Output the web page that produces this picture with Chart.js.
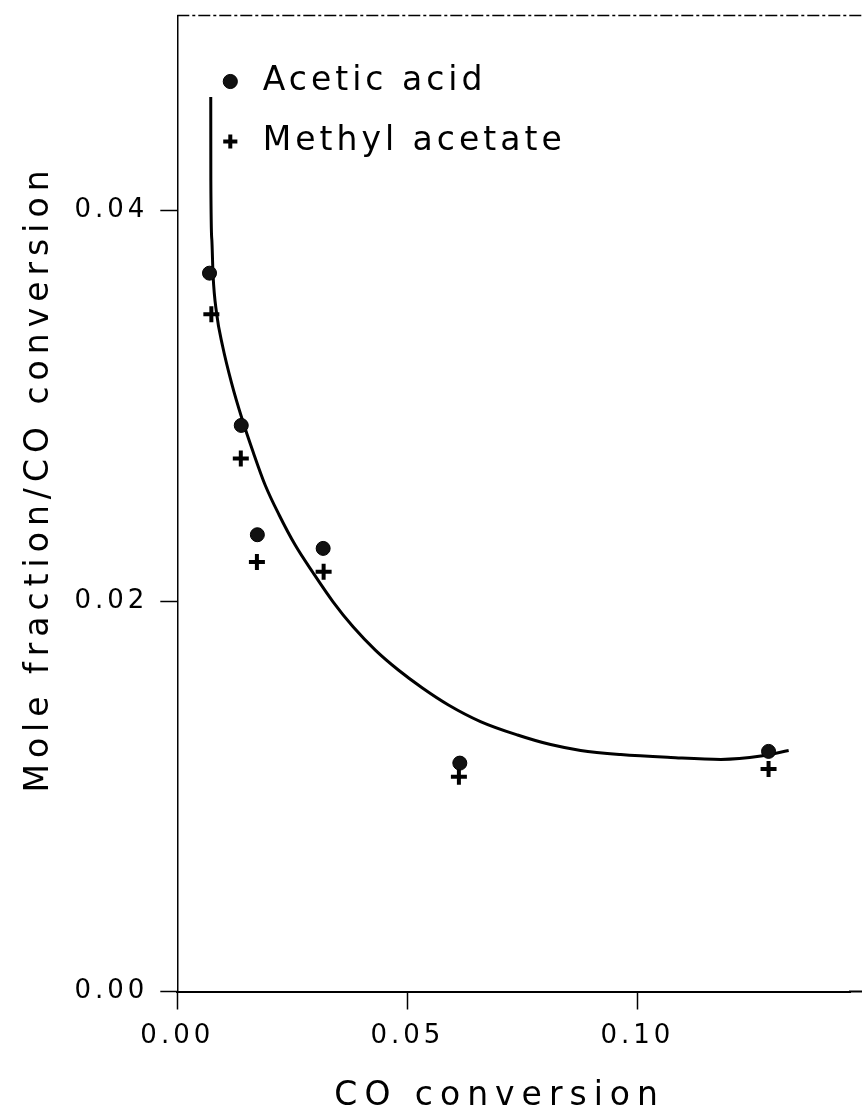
<!DOCTYPE html>
<html>
<head>
<meta charset="utf-8">
<script src="https://cdn.jsdelivr.net/npm/chart.js@4/dist/chart.umd.min.js"></script>
<style>
  html, body { margin: 0; padding: 0; background: #fff; }
  #wrap { width: 862px; height: 1117px; }
</style>
</head>
<body>
<div id="wrap"><canvas id="c" width="862" height="1117"></canvas></div>
<script>
// ---- data ----
const seriesNames = ['Acetic acid', 'Methyl acetate'];
const aceticX = [0.0070, 0.0139, 0.0174, 0.0317, 0.0614, 0.1285];
const aceticY = [0.0368, 0.0290, 0.0234, 0.0227, 0.0117, 0.0123];
const methylX = [0.0074, 0.0138, 0.0173, 0.0318, 0.0612, 0.1285];
const methylY = [0.0347, 0.0273, 0.0220, 0.0215, 0.0110, 0.0114];
const fitX = [0.00727, 0.00729, 0.00751, 0.00777, 0.00853, 0.00984, 0.01180, 0.01408, 0.01648, 0.01909,
              0.02214, 0.02562, 0.02954, 0.03389, 0.03825, 0.04304, 0.04804, 0.05327, 0.05893, 0.06589,
              0.07395, 0.08113, 0.08766, 0.09637, 0.10725, 0.11813, 0.12684, 0.13287];
const fitY = [0.04582, 0.04157, 0.03850, 0.03671, 0.03476, 0.03307, 0.03117, 0.02933, 0.02764, 0.02595,
              0.02441, 0.02287, 0.02144, 0.01995, 0.01867, 0.01749, 0.01647, 0.01555, 0.01468, 0.01383,
              0.01314, 0.01265, 0.01235, 0.01214, 0.01199, 0.01189, 0.01206, 0.01235];
const xTicks = [0, 0.05, 0.10];
const xTickLabels = ['0.00', '0.05', '0.10'];
const yTicks = [0, 0.02, 0.04];
const yTickLabels = ['0.00', '0.02', '0.04'];
const xTitle = 'CO conversion';
const yTitle = 'Mole fraction/CO conversion';

const toPts = (xs, ys) => xs.map((x, i) => ({x: x, y: ys[i]}));

const FONT = "'DejaVu Sans', 'Liberation Sans', sans-serif";
const SPACING = '4px';

const spacingPlugin = {
  id: 'spacing',
  beforeUpdate(c) { c.ctx.letterSpacing = SPACING; },
  beforeLayout(c) { c.ctx.letterSpacing = SPACING; },
  beforeDraw(c) { c.ctx.letterSpacing = SPACING; }
};

// wider letter spacing and a small shift for the axis titles (plotter-style lettering)
function wrapTitle(scale, spacing, dx, dy) {
  if (!scale || scale._wideTitle) return;
  const orig = scale.drawTitle.bind(scale);
  scale.drawTitle = function () {
    const ctx = this.ctx;
    const prev = ctx.letterSpacing;
    ctx.save();
    ctx.translate(dx, dy);
    ctx.letterSpacing = spacing;
    orig();
    ctx.restore();
    ctx.letterSpacing = prev;
  };
  scale._wideTitle = true;
}

const adjustPlugin = {
  id: 'adjust',
  afterLayout(c) {
    if (c.legend) { c.legend.left += 10; c.legend.top += 38; }
    wrapTitle(c.scales.x, '7px', -14, 0);
    wrapTitle(c.scales.y, '6px', 0, -25);
  }
};

// frame: dashed top edge, and the bottom axis line continued to the page edge
const framePlugin = {
  id: 'frame',
  afterDraw(c) {
    const a = c.chartArea, ctx = c.ctx, W = c.width;
    ctx.save();
    ctx.strokeStyle = '#000';
    ctx.lineWidth = 1.5;
    ctx.setLineDash([12, 3, 3, 3]);
    ctx.beginPath();
    ctx.moveTo(a.left, a.top);
    ctx.lineTo(W, a.top);
    ctx.stroke();
    ctx.lineWidth = 2;
    ctx.setLineDash([14, 3, 3, 3]);
    ctx.beginPath();
    ctx.moveTo(a.right - 1, a.bottom);
    ctx.lineTo(W, a.bottom);
    ctx.stroke();
    ctx.restore();
  }
};

const noPad = (s) => { s.paddingTop = 0; s.paddingBottom = 0; s.paddingLeft = 0; s.paddingRight = 0; };

new Chart(document.getElementById('c'), {
  type: 'scatter',
  data: {
    datasets: [
      {
        label: seriesNames[0],
        data: toPts(aceticX, aceticY),
        pointStyle: 'circle',
        pointRadius: 7,
        backgroundColor: '#111',
        borderColor: '#000',
        borderWidth: 1,
        showLine: false
      },
      {
        label: seriesNames[1],
        data: toPts(methylX, methylY),
        pointStyle: 'cross',
        pointRadius: 8,
        backgroundColor: '#000',
        borderColor: '#000',
        borderWidth: 4,
        showLine: false
      },
      {
        label: 'fit',
        data: toPts(fitX, fitY),
        showLine: true,
        pointRadius: 0,
        borderColor: '#000',
        borderWidth: 3,
        cubicInterpolationMode: 'monotone',
        fill: false
      }
    ]
  },
  options: {
    responsive: false,
    animation: false,
    devicePixelRatio: 1,
    layout: { padding: { left: 20, top: 15.5, right: 0, bottom: 0 } },
    plugins: {
      tooltip: { enabled: false },
      legend: {
        position: 'chartArea',
        align: 'start',
        labels: {
          usePointStyle: true,
          boxWidth: 32,
          boxHeight: 10,
          padding: 27,
          color: '#000',
          font: { family: FONT, size: 33 },
          filter: (item) => item.datasetIndex < 2
        }
      }
    },
    scales: {
      x: {
        type: 'linear',
        position: 'bottom',
        min: 0,
        max: 0.1462,
        afterBuildTicks: (s) => { s.ticks = xTicks.map(v => ({value: v})); },
        afterFit: (s) => { s.height = 125.5; noPad(s); },
        ticks: {
          callback: (v, i) => xTickLabels[i],
          color: '#000',
          font: { family: FONT, size: 26 },
          padding: 11,
          maxRotation: 0,
          autoSkip: false
        },
        grid: {
          display: true,
          drawOnChartArea: false,
          drawTicks: true,
          tickLength: 18,
          tickColor: '#000',
          tickWidth: 1.5,
          color: '#000'
        },
        border: { display: true, color: '#000', width: 2, dash: [14, 3, 3, 3] },
        title: {
          display: true,
          text: xTitle,
          color: '#000',
          font: { family: FONT, size: 33 },
          padding: { top: 0, bottom: 1 }
        }
      },
      y: {
        type: 'linear',
        position: 'left',
        min: 0,
        max: 0.05,
        afterBuildTicks: (s) => { s.ticks = yTicks.map(v => ({value: v})); },
        afterFit: (s) => { s.width = 157.3; noPad(s); },
        ticks: {
          callback: (v, i) => yTickLabels[i],
          color: '#000',
          font: { family: FONT, size: 26 },
          padding: 12,
          autoSkip: false
        },
        grid: {
          display: true,
          drawOnChartArea: false,
          drawTicks: true,
          tickLength: 17,
          tickColor: '#000',
          tickWidth: 1.5,
          color: '#000'
        },
        border: { display: true, color: '#000', width: 1.5, dash: [10, 3, 2, 3] },
        title: {
          display: true,
          text: yTitle,
          color: '#000',
          font: { family: FONT, size: 33 },
          padding: { top: 0, bottom: 0 }
        }
      }
    }
  },
  plugins: [spacingPlugin, adjustPlugin, framePlugin]
});
</script>
</body>
</html>
